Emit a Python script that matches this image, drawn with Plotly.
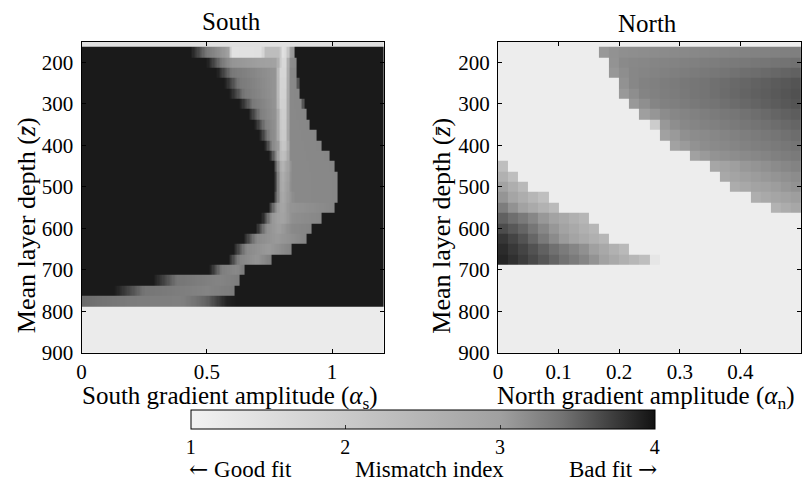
import numpy as np
import plotly.graph_objects as go

# ---------------- data ----------------
D = 3.95   # "bad fit" level (dark)
LT = 1.12  # "good fit" level (light)

# depth rows (centres of 25-m layers) plus a top strip and a bottom block
depth_rows = [175, 200, 225, 250, 275, 300, 325, 350, 375, 400, 425, 450, 475,
              500, 525, 550, 575, 600, 625, 650, 675, 700, 725, 750, 775]
depth_top, depth_bottom = 150, 900
y_ticks = [200, 300, 400, 500, 600, 700, 800, 900]

# South: per-row profiles of mismatch index vs alpha_s (knots: alpha, index)
south_rows = [
    [(0, D), (.435, D), (.50, 3.35), (.585, 3.0), (.60, 1.4), (.72, 1.45), (.735, 2.3), (.79, 2.3), (.805, 1.45), (.82, 1.65), (.835, 3.0), (.851, 3.1), (.853, D)],
    [(0, D), (.50, D), (.56, 3.35), (.60, 3.1), (.78, 2.95), (.80, 1.65), (.815, 1.65), (.83, 3.15), (.856, 3.2), (.858, D)],
    [(0, D), (.54, D), (.60, 3.35), (.775, 3.1), (.795, 1.7), (.815, 1.7), (.83, 3.2), (.858, 3.22), (.86, D)],
    [(0, D), (.57, D), (.63, 3.35), (.775, 3.1), (.795, 1.75), (.815, 1.75), (.83, 3.2), (.864, 3.22), (.866, D)],
    [(0, D), (.59, D), (.65, 3.35), (.775, 3.1), (.795, 1.75), (.815, 1.8), (.83, 3.2), (.871, 3.22), (.873, D)],
    [(0, D), (.63, D), (.685, 3.35), (.775, 3.1), (.795, 1.8), (.815, 1.85), (.83, 3.2), (.884, 3.22), (.886, D)],
    [(0, D), (.665, D), (.715, 3.3), (.78, 3.1), (.797, 1.85), (.815, 1.9), (.83, 3.2), (.897, 3.22), (.899, D)],
    [(0, D), (.69, D), (.735, 3.3), (.78, 3.1), (.797, 1.9), (.815, 1.95), (.83, 3.2), (.911, 3.22), (.913, D)],
    [(0, D), (.71, D), (.75, 3.25), (.78, 3.1), (.797, 1.95), (.815, 2.0), (.83, 3.2), (.938, 3.22), (.94, D)],
    [(0, D), (.73, D), (.765, 3.2), (.785, 3.05), (.798, 2.05), (.815, 2.15), (.835, 3.2), (.958, 3.22), (.96, D)],
    [(0, D), (.75, D), (.782, 3.1), (.798, 2.2), (.815, 2.35), (.835, 3.2), (.988, 3.22), (.99, D)],
    [(0, D), (.765, D), (.79, 3.0), (.80, 2.45), (.815, 2.75), (.84, 3.2), (1.008, 3.22), (1.01, D)],
    [(0, D), (.77, D), (.79, 3.05), (.80, 2.6), (.815, 2.85), (.84, 3.2), (1.018, 3.22), (1.02, D)],
    [(0, D), (.77, D), (.79, 3.05), (.80, 2.65), (.815, 2.9), (.84, 3.2), (1.018, 3.22), (1.02, D)],
    [(0, D), (.765, D), (.79, 3.1), (.80, 2.75), (.82, 3.0), (.85, 3.2), (1.018, 3.22), (1.02, D)],
    [(0, D), (.745, D), (.78, 3.1), (.80, 2.85), (.83, 3.1), (1.008, 3.22), (1.01, D)],
    [(0, D), (.72, D), (.76, 3.1), (.80, 2.9), (.84, 3.15), (.958, 3.22), (.96, D)],
    [(0, D), (.695, D), (.74, 3.15), (.79, 3.0), (.84, 3.2), (.923, 3.25), (.925, D)],
    [(0, D), (.645, D), (.70, 3.2), (.78, 3.05), (.895, 3.25), (.897, D)],
    [(0, D), (.605, D), (.66, 3.2), (.75, 3.05), (.843, 3.28), (.845, D)],
    [(0, D), (.585, D), (.63, 3.25), (.70, 3.1), (.758, 3.3), (.76, D)],
    [(0, D), (.51, D), (.56, 3.3), (.62, 3.2), (.648, 3.32), (.65, D)],
    [(0, D), (.285, D), (.38, 3.38), (.55, 3.25), (.628, 3.3), (.63, D)],
    [(0, D), (.13, D), (.25, 3.38), (.50, 3.25), (.608, 3.32), (.61, D)],
    [(0, 3.45), (.20, 3.32), (.40, 3.28), (.50, 3.5), (.58, 3.9), (.62, D)],
]
south_top, south_bottom = 1.45, 1.18

# North: per-row profiles of mismatch index vs alpha_n
north_rows = [
    [(0, LT), (.165, LT), (.168, 3.05), (.20, 3.15), (.5, 3.3)],
    [(0, LT), (.175, LT), (.178, 3.05), (.21, 3.2), (.5, 3.42)],
    [(0, LT), (.183, LT), (.186, 3.05), (.22, 3.22), (.5, 3.52)],
    [(0, LT), (.192, LT), (.195, 3.05), (.23, 3.25), (.5, 3.6)],
    [(0, LT), (.204, LT), (.207, 3.05), (.24, 3.25), (.5, 3.62)],
    [(0, LT), (.219, LT), (.222, 3.05), (.26, 3.25), (.5, 3.6)],
    [(0, LT), (.237, LT), (.24, 3.0), (.28, 3.2), (.5, 3.55)],
    [(0, LT), (.257, LT), (.26, 3.0), (.30, 3.2), (.5, 3.5)],
    [(0, LT), (.269, LT), (.272, 2.95), (.31, 3.15), (.5, 3.45)],
    [(0, LT), (.287, LT), (.29, 2.95), (.33, 3.15), (.5, 3.4)],
    [(0, LT), (.309, LT), (.312, 2.9), (.35, 3.1), (.5, 3.35)],
    [(0, 2.4), (.016, 2.2), (.017, LT), (.352, LT), (.355, 2.85), (.40, 3.05), (.5, 3.28)],
    [(0, 2.75), (.04, 2.0), (.041, LT), (.362, LT), (.365, 2.75), (.41, 3.0), (.5, 3.2)],
    [(0, 3.05), (.055, 2.2), (.056, LT), (.387, LT), (.39, 2.7), (.43, 2.95), (.5, 3.15)],
    [(0, 3.2), (.08, 2.2), (.081, LT), (.419, LT), (.422, 2.65), (.46, 2.9), (.5, 3.05)],
    [(0, 3.4), (.10, 2.3), (.101, LT), (.452, LT), (.455, 2.55), (.5, 2.9)],
    [(0, 3.55), (.05, 3.3), (.15, 2.4), (.151, LT), (.5, LT)],
    [(0, 3.68), (.05, 3.45), (.167, 2.4), (.168, LT), (.5, LT)],
    [(0, 3.82), (.05, 3.55), (.183, 2.4), (.184, LT), (.5, LT)],
    [(0, 3.88), (.05, 3.65), (.15, 3.1), (.217, 2.3), (.218, LT), (.5, LT)],
    [(0, 3.92), (.05, 3.7), (.15, 3.2), (.25, 2.2), (.26, LT), (.5, LT)],
    [(0, LT), (.5, LT)],
    [(0, LT), (.5, LT)],
    [(0, LT), (.5, LT)],
    [(0, LT), (.5, LT)],
]
north_top, north_bottom = 1.12, 1.12

south_xticks = [0, 0.5, 1]
south_xticklabels = ["0", "0.5", "1"]
north_xticks = [0, 0.1, 0.2, 0.3, 0.4]
north_xticklabels = ["0", "0.1", "0.2", "0.3", "0.4"]
cbar_ticks = [1, 2, 3, 4]

# ---------------- grids ----------------
layer = 25.0
y_edges = np.concatenate([[depth_top], np.array(depth_rows) - layer / 2,
                          [depth_rows[-1] + layer / 2, depth_bottom]])

sx_edges = np.linspace(0, 1.21, 122)
nx_edges = np.linspace(0, 0.5, 31)


def build(rows, edges, top, bottom):
    xc = 0.5 * (edges[:-1] + edges[1:])
    z = [np.full(len(xc), top)]
    for knots in rows:
        kx, kv = zip(*knots)
        z.append(np.interp(xc, kx, kv))
    z.append(np.full(len(xc), bottom))
    return np.array(z)


z_south = build(south_rows, sx_edges, south_top, south_bottom)
z_north = build(north_rows, nx_edges, north_top, north_bottom)

W, H = 803, 493
FONT = "Liberation Serif"

fig = go.Figure()
fig.add_trace(go.Heatmap(x=sx_edges, y=y_edges, z=z_south, coloraxis="coloraxis",
                         hoverinfo="skip", xaxis="x", yaxis="y"))
fig.add_trace(go.Heatmap(x=nx_edges, y=y_edges, z=z_north, coloraxis="coloraxis",
                         hoverinfo="skip", xaxis="x2", yaxis="y2"))

px = lambda v: v / W
py = lambda v: 1 - v / H

plot_top, plot_bot = 42.75, 361.75
ax_common = dict(showline=True, linecolor="black", linewidth=1, mirror="allticks",
                 ticks="inside", ticklen=4, tickcolor="black", showgrid=False,
                 zeroline=False, tickfont=dict(family=FONT, size=21, color="black"))

fig.update_layout(
    width=W, height=H, margin=dict(l=0, r=0, t=0, b=0),
    paper_bgcolor="white", plot_bgcolor="white",
    font=dict(family=FONT, color="black"),
    xaxis=dict(domain=[px(77), px(381)], range=[0, 1.206], tickvals=south_xticks,
               ticktext=south_xticklabels, anchor="y", ticklabelstandoff=0, **ax_common),
    yaxis=dict(domain=[py(plot_bot), py(plot_top)], range=[depth_bottom, depth_top],
               tickvals=y_ticks, anchor="x", ticklabelstandoff=3, **ax_common),
    xaxis2=dict(domain=[px(496), px(801)], range=[0, 0.5], tickvals=north_xticks,
                ticktext=north_xticklabels, anchor="y2", ticklabelstandoff=0, **ax_common),
    yaxis2=dict(domain=[py(plot_bot), py(plot_top)], range=[depth_bottom, depth_top],
                tickvals=y_ticks, anchor="x2", ticklabelstandoff=3, **ax_common),
    coloraxis=dict(
        cmin=1, cmax=4,
        colorscale=[[0, "rgb(242,242,242)"], [1 / 3, "rgb(202,202,202)"],
                    [2 / 3, "rgb(160,160,160)"], [0.8, "rgb(115,115,115)"],
                    [0.9, "rgb(66,66,66)"], [1, "rgb(18,18,18)"]],
        colorbar=dict(orientation="h", x=px(420.3), xanchor="center", lenmode="fraction",
                      len=467 / W, thickness=19, thicknessmode="pixels",
                      y=py(420), yanchor="top", xpad=0, ypad=0,
                      outlinewidth=1, outlinecolor="black",
                      tickvals=cbar_ticks, ticks="inside", ticklen=4,
                      tickcolor="#333",
                      tickfont=dict(family=FONT, size=20, color="black")),
    ),
)

ARROW = "font-family:'DejaVu Serif'"
ann = []
ann.append(dict(text="South", x=px(228), y=py(22), xref="paper", yref="paper",
                showarrow=False, font=dict(size=25), xanchor="center", yanchor="middle"))
ann.append(dict(text="North", x=px(647), y=py(24), xref="paper", yref="paper",
                showarrow=False, font=dict(size=25), xanchor="center", yanchor="middle"))
for xx in (22, 439):
    ann.append(dict(text="Mean layer depth (<i>z\u0304</i>)", x=px(xx), y=py(231),
                    xref="paper", yref="paper", showarrow=False, textangle=-90,
                    font=dict(size=26), xanchor="center", yanchor="middle"))
ann.append(dict(text="South gradient amplitude (<i>\u03b1</i><sub>s</sub>)", x=px(226), y=py(407),
                xref="paper", yref="paper", showarrow=False, font=dict(size=25),
                xanchor="center", yanchor="middle"))
ann.append(dict(text="North gradient amplitude (<i>\u03b1</i><sub>n</sub>)", x=px(645), y=py(407),
                xref="paper", yref="paper", showarrow=False, font=dict(size=25),
                xanchor="center", yanchor="middle"))
ann.append(dict(text=f"<span style=\"{ARROW}\">\u2190</span> Good fit", x=px(183), y=py(481),
                xref="paper", yref="paper", showarrow=False, font=dict(size=23),
                xanchor="left", yanchor="middle"))
ann.append(dict(text="Mismatch index", x=px(427), y=py(481), xref="paper", yref="paper",
                showarrow=False, font=dict(size=23), xanchor="center", yanchor="middle"))
ann.append(dict(text=f"Bad fit <span style=\"{ARROW}\">\u2192</span>", x=px(658), y=py(481),
                xref="paper", yref="paper", showarrow=False, font=dict(size=23),
                xanchor="right", yanchor="middle"))
fig.update_layout(annotations=ann)

fig.write_html("out.html")
